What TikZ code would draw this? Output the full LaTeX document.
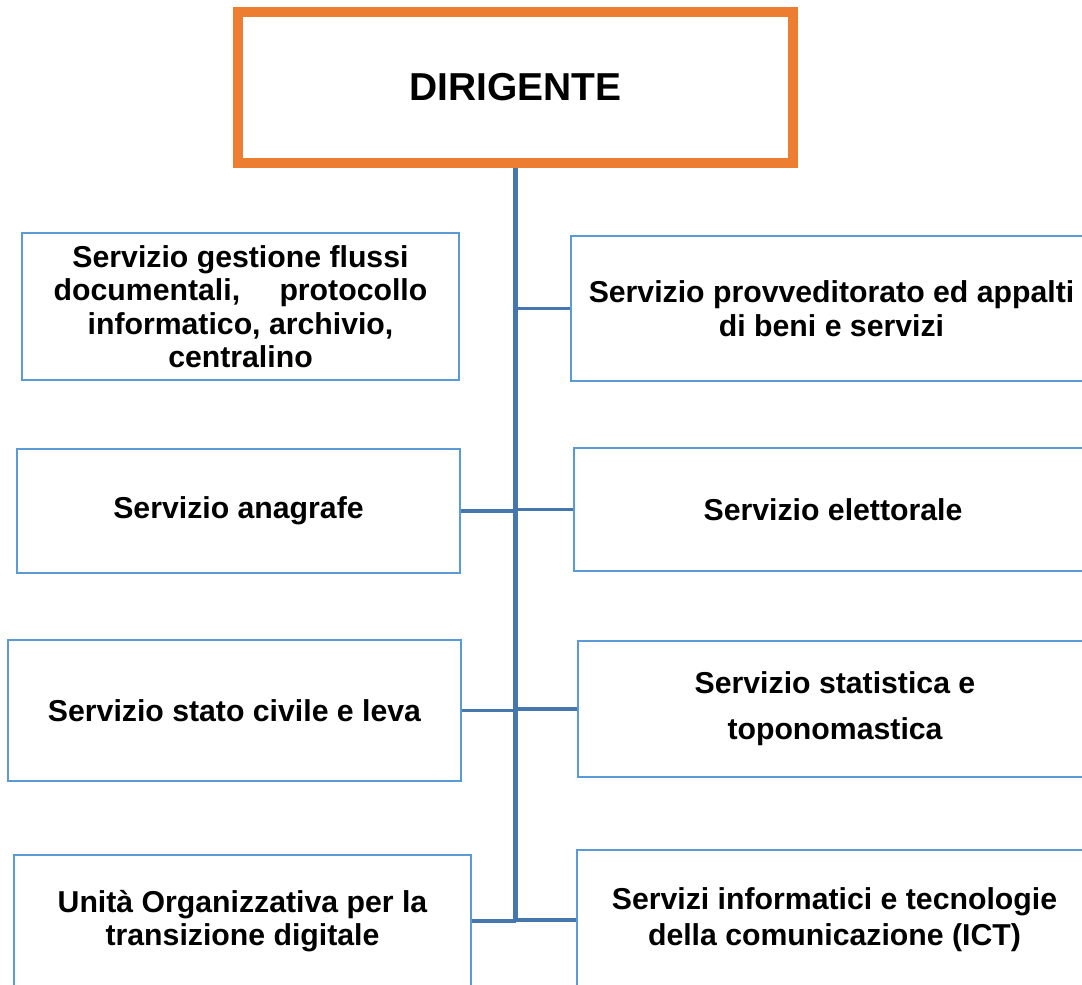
\documentclass[tikz,border=0pt]{standalone}
\usepackage{fontspec}
\setmainfont{Liberation Sans}
\usepackage{tikz}
\usetikzlibrary{arrows,shapes}

\definecolor{headorange}{HTML}{ED7D31}
\definecolor{boxblue}{HTML}{5B9BD5}
\definecolor{linkblue}{HTML}{4576AE}

\begin{document}
\begin{tikzpicture}[x=0.025cm,y=-0.025cm]
  \tikzstyle{unit}=[align=center,rectangle,draw=boxblue,line width=1.4pt,fill=white,inner sep=0pt,font=\fontsize{21.5}{23.8}\selectfont\bfseries]
  \tikzstyle{head}=[rectangle,draw=headorange,line width=6.8pt,fill=white,minimum width=13.875cm,minimum height=3.775cm,font=\fontsize{27.7}{30}\selectfont\bfseries]

  \useasboundingbox (0,0) rectangle (1082,984);
  \clip (0,0) rectangle (1082,984);

  % Head of the office.
  \node [head] (dir) at (515.5,87.5) {DIRIGENTE};

  % Left column.
  \node [unit,minimum width=10.925cm,minimum height=3.675cm] (l1) at (240.5,306.5)
    {Servizio gestione flussi\\ documentali,\hspace{1.3em}protocollo\\ informatico, archivio,\\ centralino};
  \node [unit,minimum width=11.075cm,minimum height=3.1cm] (l2) at (238.5,511) {Servizio anagrafe};
  \node [unit,minimum width=11.325cm,minimum height=3.525cm] (l3) at (234.5,710.5) {Servizio stato civile e leva};
  \node [unit,minimum width=11.425cm,minimum height=3.3cm] (l4) at (242.5,921)
    {Unità Organizzativa per la\\ transizione digitale};

  % Right column.
  \node [unit,minimum width=13.025cm,minimum height=3.625cm] (r1) at (831.5,308.5)
    {Servizio provveditorato ed appalti\\ di beni e servizi};
  \node [unit,minimum width=12.95cm,minimum height=3.075cm] (r2) at (833,509.5) {Servizio elettorale};
  \node [unit,minimum width=12.85cm,minimum height=3.4cm] (r3) at (835,709)
    {Servizio statistica e\\[0.32cm] toponomastica};
  \node [unit,minimum width=12.875cm,minimum height=3.5cm] (r4) at (834.5,920)
    {Servizi informatici e tecnologie\\[0.07cm] della comunicazione (ICT)};

  \begin{scope}[-,draw=linkblue,line width=2.3pt]
    % Trunk.
    \path (dir.south) edge [line width=3.2pt] (dir.south |- l4.east);
    % Branches.
    \path (r1.west) edge (r1.west -| dir.south);
    \path (l2.east) edge (l2.east -| dir.south);
    \path (r2.west) edge (r2.west -| dir.south);
    \path (l3.east) edge (l3.east -| dir.south);
    \path (r3.west) edge (r3.west -| dir.south);
    \path (l4.east) edge (l4.east -| dir.south);
    \path (r4.west) edge (r4.west -| dir.south);
  \end{scope}
\end{tikzpicture}
\end{document}
